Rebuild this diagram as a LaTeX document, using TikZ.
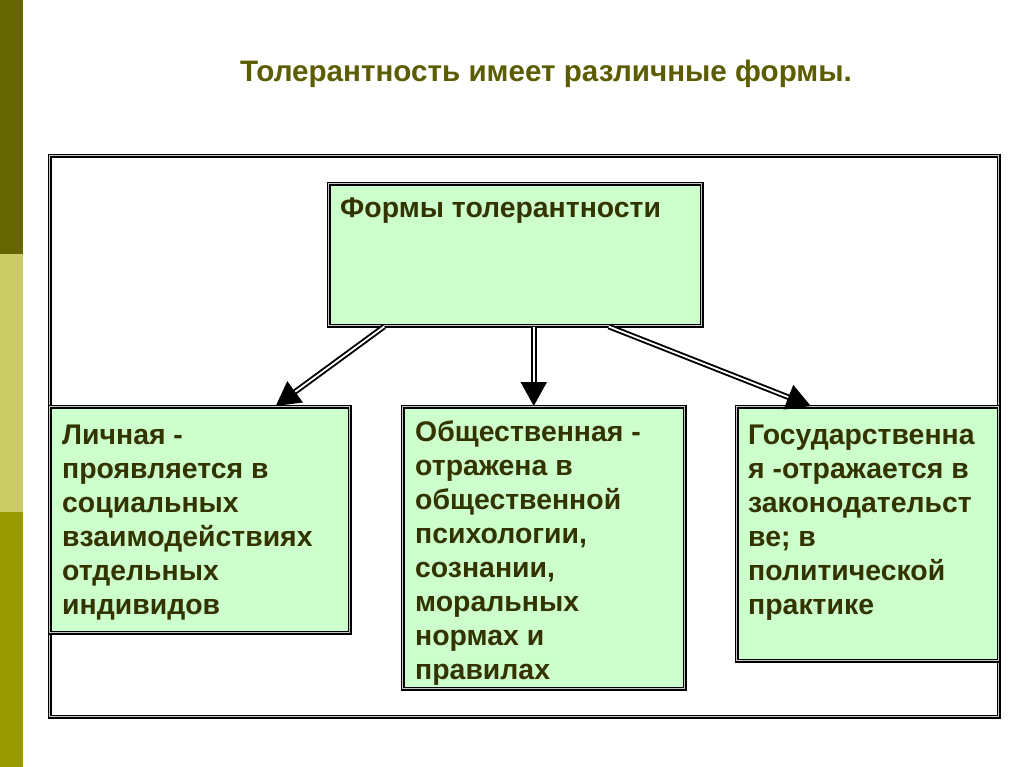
\documentclass[tikz,border=0pt]{standalone}
\usepackage{fontspec}
\setmainfont{Liberation Sans}
\usetikzlibrary{arrows.meta}
\definecolor{barA}{HTML}{666600}
\definecolor{barB}{HTML}{CCCC66}
\definecolor{barC}{HTML}{999900}
\definecolor{boxfill}{HTML}{CCFFCC}
\definecolor{boxtext}{HTML}{333300}
\definecolor{titletext}{HTML}{5C5C00}
\definecolor{midline}{HTML}{C8C8C8}
\begin{document}
\begin{tikzpicture}[x=1pt,y=-1pt,
  frameline/.style={draw=black, line width=1.5pt, double=midline, double distance=1.3pt},
  boxshape/.style={frameline, fill=boxfill, rectangle, inner sep=0pt, anchor=north west},
  boxtxt/.style={anchor=north west, inner sep=0pt, align=left, text=boxtext,
     font=\bfseries\fontsize{28.4}{34}\selectfont},
  arr/.style={draw=black, line width=1.9pt, double=white, double distance=1.8pt,
     -{Triangle[length=24pt,width=26pt]}}]
\useasboundingbox (0,0) rectangle (1024,767);
\fill[white] (0,0) rectangle (1024,767);
% left bar
\fill[barA] (0,0) rectangle (23,254);
\fill[barB] (0,254) rectangle (23,512);
\fill[barC] (0,512) rectangle (23,767);
% title
\node[anchor=base, inner sep=0pt, text=titletext, font=\bfseries\fontsize{29.6}{34}\selectfont] (title) at (546,82) {Толерантность имеет различные формы.};
% outer frame
\node[frameline, rectangle, inner sep=0pt, anchor=north west, minimum width=949pt, minimum height=561pt] (frame) at (49,155) {};
% boxes
\node[boxshape, minimum width=373pt, minimum height=142pt] (top) at (328,183) {};
\node[boxshape, minimum width=300pt, minimum height=226pt] (left) at (49,406) {};
\node[boxshape, minimum width=282pt, minimum height=282pt] (mid) at (402,406) {};
\node[boxshape, minimum width=262pt, minimum height=254pt] (right) at (736,406) {};
% texts
\node[boxtxt] (toptxt) at (340,194) {\strut Формы толерантности};
\node[boxtxt] (lefttxt) at (62,420) {\strut Личная -\\проявляется в\\социальных\\взаимодействиях\\отдельных\\индивидов};
\node[boxtxt] (midtxt) at (415,417) {\strut Общественная -\\отражена в\\общественной\\психологии,\\сознании,\\моральных\\нормах и\\правилах};
\node[boxtxt] (righttxt) at (748,420) {\strut Государственна\\я -отражается в\\законодательст\\ве; в\\политической\\практике};
% arrows
\draw[arr] ([xshift=-131pt]top.south) -- ([xshift=76pt]left.north);
\draw[arr] ([xshift=18.5pt]top.south) -- ([xshift=-10pt]mid.north);
\draw[arr] ([xshift=93.5pt]top.south) -- ([xshift=-57pt]right.north);
\end{tikzpicture}
\end{document}
